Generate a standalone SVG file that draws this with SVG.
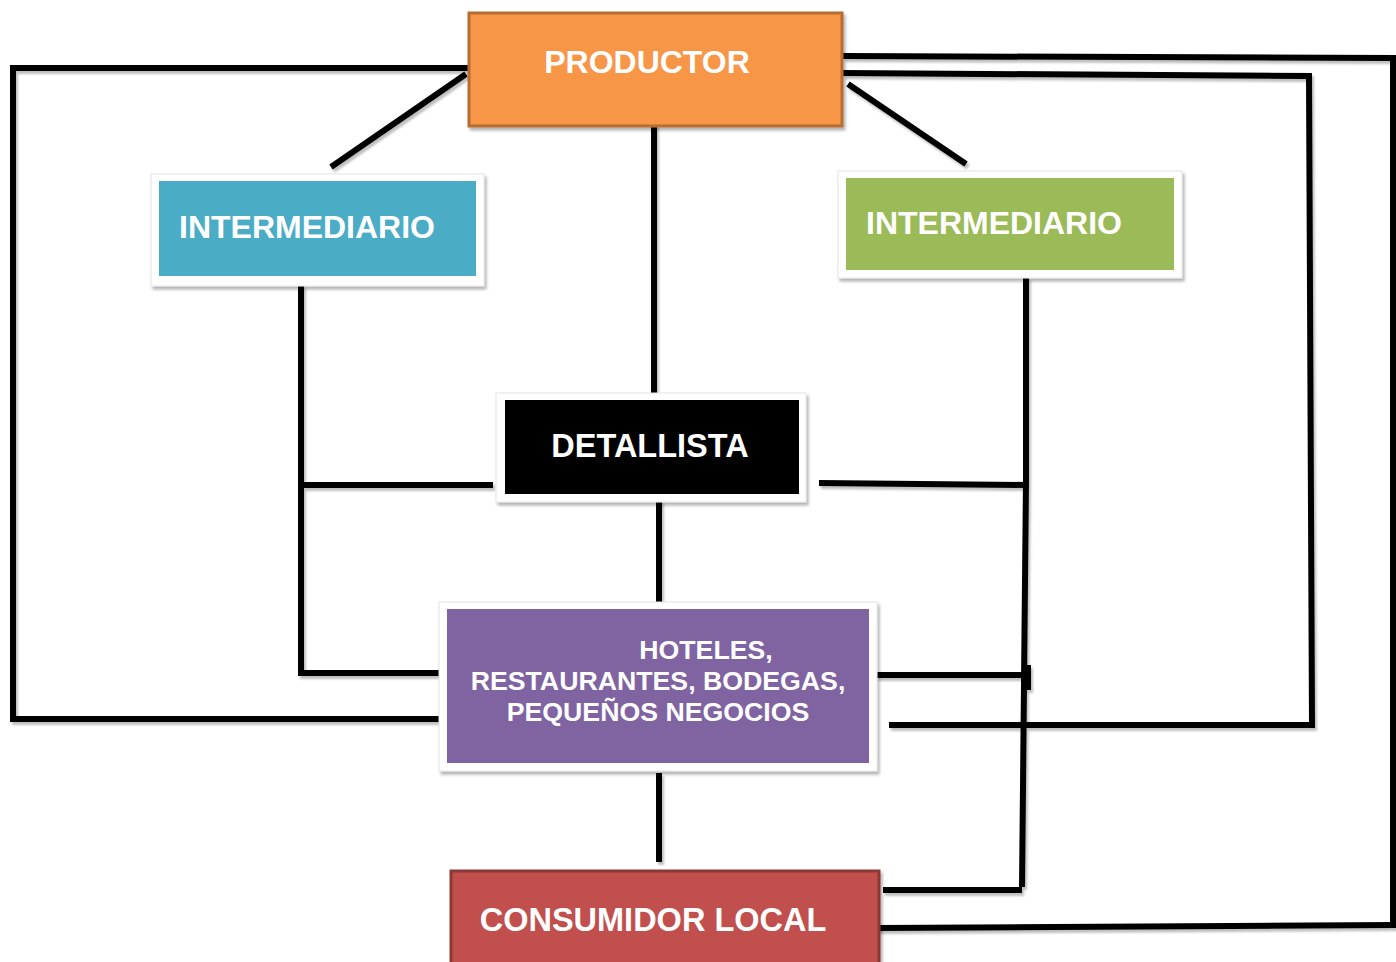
<svg xmlns="http://www.w3.org/2000/svg" width="1396" height="962" viewBox="0 0 1396 962">
<defs>
<filter id="sh" x="-10%" y="-10%" width="120%" height="130%">
<feDropShadow dx="2" dy="3" stdDeviation="1.5" flood-color="#000" flood-opacity="0.3"/>
</filter>
<filter id="lsh" x="-5%" y="-5%" width="110%" height="110%">
<feDropShadow dx="2" dy="3" stdDeviation="1.2" flood-color="#000" flood-opacity="0.25"/>
</filter>
<style>
.c{fill:none;stroke:#000;stroke-width:6;stroke-linecap:butt;stroke-linejoin:miter}
.fr{fill:#fff;stroke:#e4e4e4;stroke-width:1}
.t{font-family:"Liberation Sans",Arial,sans-serif;font-weight:bold;fill:#fff}
</style>
</defs>
<rect width="1396" height="962" fill="#fff"/>
<g id="connectors" filter="url(#lsh)">
<path class="c" d="M468,68 H13 V719 H440"/>
<path class="c" d="M466,74 L331,167"/>
<path class="c" d="M848,84 L966,164"/>
<path class="c" d="M654,124 V394"/>
<path class="c" d="M843,56 L1393,58 V925"/>
<path class="c" d="M877,928 L1396,925"/>
<path class="c" d="M843,73 L1309,76 L1312,725 H889"/>
<path class="c" d="M301,285 V673 H442"/>
<path class="c" d="M301,485 H493"/>
<path class="c" d="M819,483 L1028,485"/>
<path class="c" d="M1026,277 V480 L1022,887"/>
<path class="c" d="M876,675 H1028 M1028,665 V690"/>
<path class="c" d="M883,890 H1022"/>
<path class="c" d="M659,500 V606"/>
<path class="c" d="M659,773 V862"/>
</g>
<g id="productor">
<rect x="469" y="13" width="373" height="113" fill="#F79646" stroke="#B66D31" stroke-width="3" filter="url(#sh)"/>
<text class="t" x="647" y="73" font-size="32" text-anchor="middle">PRODUCTOR</text>
</g>
<g id="intermediario-azul">
<rect class="fr" x="151" y="174" width="333" height="112" filter="url(#sh)"/>
<rect x="159" y="181" width="317" height="95" fill="#4BACC6"/>
<text class="t" x="179" y="238" font-size="32">INTERMEDIARIO</text>
</g>
<g id="intermediario-verde">
<rect class="fr" x="838" y="171" width="344" height="107" filter="url(#sh)"/>
<rect x="846" y="178" width="328" height="92" fill="#9BBB59"/>
<text class="t" x="866" y="234" font-size="32">INTERMEDIARIO</text>
</g>
<g id="detallista">
<rect class="fr" x="496" y="393" width="310" height="109" filter="url(#sh)"/>
<rect x="505" y="400" width="294" height="94" fill="#000"/>
<text class="t" x="650" y="457" font-size="32.5" text-anchor="middle">DETALLISTA</text>
</g>
<g id="hoteles">
<rect class="fr" x="439" y="602" width="438" height="169" filter="url(#sh)"/>
<rect x="447" y="609" width="422" height="154" fill="#8064A2"/>
<text class="t" font-size="26.7" text-anchor="middle"><tspan x="706" y="659">HOTELES,</tspan><tspan x="658" y="690">RESTAURANTES, BODEGAS,</tspan><tspan x="658" y="721">PEQUEÑOS NEGOCIOS</tspan></text>
</g>
<g id="consumidor">
<rect x="451" y="871" width="428" height="100" fill="#C0504D" stroke="#8C3836" stroke-width="3" filter="url(#sh)"/>
<text class="t" x="653" y="931" font-size="32.5" text-anchor="middle">CONSUMIDOR LOCAL</text>
</g>
</svg>
